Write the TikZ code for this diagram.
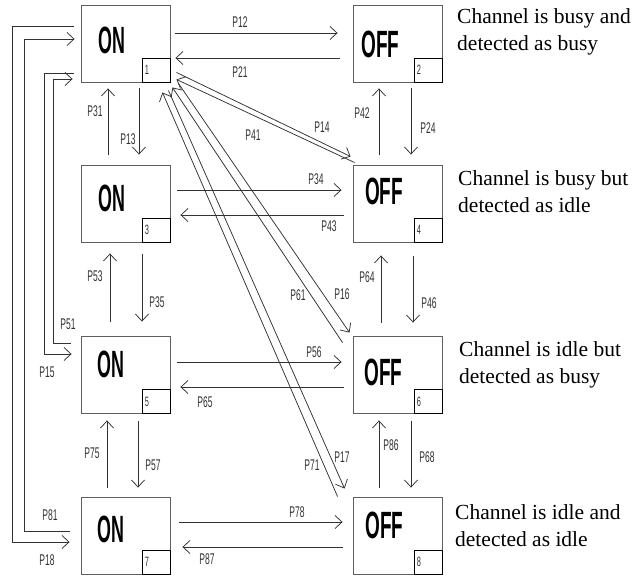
\documentclass[tikz,border=0pt]{standalone}
\usepackage{fontspec}
\setmainfont{Liberation Serif}
\newfontfamily\labfont{Liberation Sans}
\newfontfamily\descfont{Liberation Serif}
\usetikzlibrary{arrows.meta,calc}
\newcommand\narrow[2][0.55]{\scalebox{#1}[1]{#2}}
\definecolor{linec}{RGB}{50,50,50}
\definecolor{boxc}{RGB}{95,95,95}
\begin{document}
\begin{tikzpicture}[x=1pt,y=-1pt,
  box/.style={draw=boxc, line width=0.9pt, minimum width=89pt, minimum height=77pt, inner sep=0pt},
  corner/.style={draw=black, line width=0.8pt, minimum width=28.5pt, minimum height=24pt, inner sep=0pt, anchor=south east},
  arr/.style={draw=linec, line width=0.75pt, -{Straight Barb[length=7pt,width=13pt,line width=0.75pt]}},
  lbl/.style={font=\labfont\fontsize{15.5}{15.5}\selectfont, text=linec, inner sep=0pt},
  big/.style={font=\labfont\bfseries\fontsize{38}{38}\selectfont, inner sep=0pt},
  num/.style={font=\labfont\fontsize{13.5}{13.5}\selectfont, text=linec, anchor=west, inner sep=0pt},
  desc/.style={font=\descfont\fontsize{21.5}{27}\selectfont, align=left, anchor=west, inner sep=0pt}
]
\useasboundingbox (0,0) rectangle (635,577);
\fill[white] (0,0) rectangle (635,577);

% boxes
\node[box] (b1) at (126,43.5) {};
\node[box] (b2) at (398,43.5) {};
\node[box] (b3) at (126,203.5) {};
\node[box] (b4) at (398,203.5) {};
\node[box] (b5) at (126,375) {};
\node[box] (b6) at (398,375) {};
\node[box] (b7) at (126,535.5) {};
\node[box] (b8) at (398,535.5) {};

% corner boxes and numbers
\foreach \i in {1,...,8}{
  \node[corner] (c\i) at (b\i.south east) {};
  \node[num] (n\i) at ([xshift=3pt]c\i.west) {\narrow{\i}};
}

% state texts
\node[big] (t1) at (111.5,40) {\narrow[0.47]{ON}};
\node[big] (t3) at (111.5,198.5) {\narrow[0.47]{ON}};
\node[big] (t5) at (111,364.5) {\narrow[0.47]{ON}};
\node[big] (t7) at (111,529) {\narrow[0.47]{ON}};
\node[big] (t2) at (380.5,44) {\narrow[0.5]{OFF}};
\node[big] (t4) at (384,191) {\narrow[0.5]{OFF}};
\node[big] (t6) at (383.5,372) {\narrow[0.5]{OFF}};
\node[big] (t8) at (384.5,525) {\narrow[0.5]{OFF}};

% descriptions
\node[desc] (d1) at (457,31.5) {Channel is busy and\\detected as busy};
\node[desc] (d2) at (458,191.5) {Channel is busy but\\detected as idle};
\node[desc] (d3) at (459,365) {Channel is idle but\\detected as busy};
\node[desc] (d4) at (455,526) {Channel is idle and\\detected as idle};

% horizontal arrows
\draw[arr] ([shift={(4.5,-10.5)}]b1.east) -- ([shift={(-15.5,-10.5)}]b2.west);
\draw[arr] ([shift={(-13.5,14.5)}]b2.west) -- ([shift={(4.5,14.5)}]b1.east);
\draw[arr] ([shift={(6.5,-13.5)}]b3.east) -- ([shift={(-11.5,-13.5)}]b4.west);
\draw[arr] ([shift={(-9.5,11.5)}]b4.west) -- ([shift={(9.5,11.5)}]b3.east);
\draw[arr] ([shift={(6.5,-13)}]b5.east) -- ([shift={(-11.5,-13)}]b6.west);
\draw[arr] ([shift={(-9.5,12)}]b6.west) -- ([shift={(9.5,12)}]b5.east);
\draw[arr] ([shift={(8.5,-13.5)}]b7.east) -- ([shift={(-10.5,-13.5)}]b8.west);
\draw[arr] ([shift={(-10.5,11.5)}]b8.west) -- ([shift={(11.5,11.5)}]b7.east);

% vertical arrows, left column
\draw[arr] ([shift={(-18,-10)}]b3.north) -- ([shift={(-18,6)}]b1.south);
\draw[arr] ([shift={(13,6)}]b1.south) -- ([shift={(13,-10)}]b3.north);
\draw[arr] ([shift={(-16,-14.5)}]b5.north) -- ([shift={(-16,11)}]b3.south);
\draw[arr] ([shift={(16,12)}]b3.south) -- ([shift={(16,-14.5)}]b5.north);
\draw[arr] ([shift={(-19,-9)}]b7.north) -- ([shift={(-19,6.5)}]b5.south);
\draw[arr] ([shift={(12,7.5)}]b5.south) -- ([shift={(12,-9)}]b7.north);

% vertical arrows, right column
\draw[arr] ([shift={(-19,-10)}]b4.north) -- ([shift={(-19,6)}]b2.south);
\draw[arr] ([shift={(13,6)}]b2.south) -- ([shift={(13,-10)}]b4.north);
\draw[arr] ([shift={(-17,-13.5)}]b6.north) -- ([shift={(-17,13)}]b4.south);
\draw[arr] ([shift={(15,14)}]b4.south) -- ([shift={(15,-13.5)}]b6.north);
\draw[arr] ([shift={(-19,-9)}]b8.north) -- ([shift={(-19,6.5)}]b6.south);
\draw[arr] ([shift={(13,7.5)}]b6.south) -- ([shift={(13,-9)}]b8.north);

% diagonals
\draw[arr] ([shift={(5.5,-10)}]b1.south east) -- ([shift={(-2.5,-8)}]b4.north west);
\draw[arr] ([shift={(1.5,-2)}]b4.north west) -- ([shift={(5.5,-3)}]b1.south east);
\draw[arr] ([shift={(7.5,1)}]b1.south east) -- ([shift={(-3.5,-3.5)}]b6.north west);
\draw[arr] ([shift={(-10.5,6.5)}]b6.north west) -- ([shift={(1.5,5)}]b1.south east);
\draw[arr] ([shift={(-2.5,8)}]b1.south east) -- ([shift={(-8.5,-8)}]b8.north west);
\draw[arr] ([shift={(-15.5,0)}]b8.north west) -- ([shift={(-8.5,10)}]b1.south east);

% loops on the left
\draw[arr] ([shift={(-7.5,-17.5)}]b1.west) -- ++(-61,0) |- ([shift={(-11.5,6.5)}]b7.west);
\draw[arr] ([shift={(-11.5,-4.5)}]b7.west) -- ++(-45,0) |- ([shift={(-6.5,-4.5)}]b1.west);
\draw[arr] ([shift={(-7.5,29.5)}]b1.west) -- ++(-29,0) |- ([shift={(-9.5,-21)}]b5.west);
\draw[arr] ([shift={(-10.5,-32)}]b5.west) -- ++(-17,0) |- ([shift={(-8.5,35.5)}]b1.west);

% labels
\node[lbl] (l12) at (240,22) {\narrow{P12}};
\node[lbl] (l21) at (240,72) {\narrow{P21}};
\node[lbl] (l31) at (95,111) {\narrow{P31}};
\node[lbl] (l13) at (128,139) {\narrow{P13}};
\node[lbl] (l42) at (362,113) {\narrow{P42}};
\node[lbl] (l24) at (428,128) {\narrow{P24}};
\node[lbl] (l41) at (253,135) {\narrow{P41}};
\node[lbl] (l14) at (322,127) {\narrow{P14}};
\node[lbl] (l34) at (316,179) {\narrow{P34}};
\node[lbl] (l43) at (329,226) {\narrow{P43}};
\node[lbl] (l61) at (298,295) {\narrow{P61}};
\node[lbl] (l16) at (342,294) {\narrow{P16}};
\node[lbl] (l64) at (367,277) {\narrow{P64}};
\node[lbl] (l46) at (429,303) {\narrow{P46}};
\node[lbl] (l53) at (95,276) {\narrow{P53}};
\node[lbl] (l35) at (157,302) {\narrow{P35}};
\node[lbl] (l51) at (68,324) {\narrow{P51}};
\node[lbl] (l56) at (314,352) {\narrow{P56}};
\node[lbl] (l65) at (205,402) {\narrow{P65}};
\node[lbl] (l15) at (47,372) {\narrow{P15}};
\node[lbl] (l75) at (92,453) {\narrow{P75}};
\node[lbl] (l57) at (153,465) {\narrow{P57}};
\node[lbl] (l86) at (391,445) {\narrow{P86}};
\node[lbl] (l68) at (427,457) {\narrow{P68}};
\node[lbl] (l71) at (312,465) {\narrow{P71}};
\node[lbl] (l17) at (342,457) {\narrow{P17}};
\node[lbl] (l78) at (297,512) {\narrow{P78}};
\node[lbl] (l87) at (207,559) {\narrow{P87}};
\node[lbl] (l81) at (50,515) {\narrow{P81}};
\node[lbl] (l18) at (47,560) {\narrow{P18}};
\end{tikzpicture}
\end{document}
